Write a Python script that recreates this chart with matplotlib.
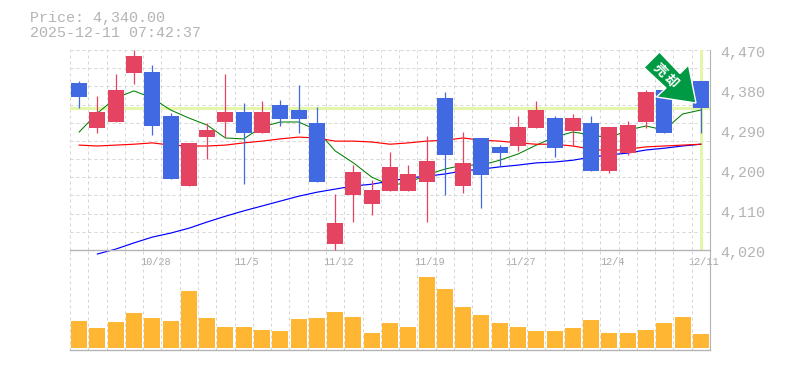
import matplotlib
matplotlib.use("Agg")
import matplotlib.pyplot as plt
from matplotlib.patches import Polygon
import numpy as np

W, H = 785, 370

# price at open / close / high / low for each day
opens = [4396, 4294.5, 4308, 4418, 4420.5, 4321.5, 4164, 4274, 4308, 4330.5, 4283, 4346, 4335, 4306, 4033,
         4144, 4123.5, 4153, 4153, 4173, 4362, 4164, 4272, 4252, 4254, 4294.5, 4317, 4288, 4306, 4198,
         4238, 4308, 4380, 4393.5, 4400]
closes = [4364, 4330.5, 4380, 4456.5, 4299, 4180, 4261, 4290, 4330.5, 4283, 4330.5, 4315, 4315, 4173, 4081,
          4195.5, 4155, 4207, 4191, 4220, 4234, 4216, 4189, 4238, 4297, 4335, 4249.5, 4317, 4198, 4297,
          4301, 4375.5, 4283, 4371, 4340]
highs = [4400, 4366.5, 4416, 4470, 4436, 4328, 4261, 4306, 4416, 4351, 4355, 4357.5, 4391, 4342, 4146,
         4211, 4177.5, 4240.5, 4211, 4276.5, 4375.5, 4285.5, 4272, 4256, 4321.5, 4355, 4321.5, 4326, 4321.5, 4297,
         4310, 4380, 4380, 4402.5, 4400]
lows = [4340, 4283, 4308, 4393.5, 4279, 4180, 4164, 4225, 4274, 4168.5, 4283, 4299, 4283, 4173, 4020,
        4083, 4099, 4153, 4153, 4083, 4144, 4148, 4114.5, 4209, 4243, 4294.5, 4229, 4254, 4198, 4193,
        4234, 4294.5, 4283, 4357.5, 4283]

ma_short = [4285.5, 4328, 4362, 4378, 4362, 4335, 4317, 4301, 4272, 4270, 4297, 4308, 4308, 4290, 4243,
            4216, 4184, 4166, 4171, 4189, 4202, 4211, 4211, 4222, 4236, 4256, 4274, 4285.5, 4279, 4272,
            4290, 4299, 4290, 4326, 4335]
ma_mid = [4256, 4254, 4256, 4258, 4261, 4256, 4254, 4254, 4256, 4261, 4265, 4270, 4274, 4272, 4265,
          4265, 4263, 4258, 4261, 4265, 4267, 4272, 4267, 4265, 4261, 4258, 4258, 4254, 4247, 4243,
          4247, 4252, 4254, 4256, 4258]
ma_long = [4011, 4022, 4036, 4049, 4058, 4069, 4083, 4096, 4108, 4119, 4130, 4141, 4150, 4157,
           4164, 4168, 4175, 4182, 4186, 4191, 4198, 4202, 4207, 4211, 4216, 4218, 4222, 4229, 4234, 4238,
           4245, 4249, 4254, 4258]

volumes = [27, 20, 26, 35, 30, 27, 57, 30, 21, 21, 18, 17, 29, 30, 36, 31, 15, 25,
           21, 71, 59, 41, 33, 25, 21, 17, 17, 20, 28, 15, 15, 18, 25, 31, 14]

price_ticks = [4020, 4110, 4200, 4290, 4380, 4470]
date_pos = [4, 9, 14, 19, 24, 29, 34]
date_labels = ["10/28", "11/5", "11/12", "11/19", "11/27", "12/4", "12/11"]
last_price = 4340

UP = "#e44361"
DOWN = "#4169e1"
GREY = "#b4b4b4"
GRID = "#d6d6d6"
MONO = "Liberation Mono"


def rect(x0, y0, x1, y1):
    return [x0 / W, 1 - y1 / H, (x1 - x0) / W, (y1 - y0) / H]


fig = plt.figure(figsize=(W / 100, H / 100), dpi=100)
ax = fig.add_axes(rect(70, 50, 710, 250))
vol = fig.add_axes(rect(70, 250, 710, 350))

x = np.arange(35) + 0.5
for a in (ax, vol):
    a.set_xlim(0, 35)
    a.set_xticks(np.arange(36))
    a.tick_params(length=0, labelbottom=False, labelleft=False)
    a.grid(True, axis="x", color=GRID, lw=0.72, ls=(0, (3, 3)))
    a.set_axisbelow(True)
    a.patch.set_alpha(0)
    for s in a.spines.values():
        s.set_visible(False)
    a.spines["right"].set_visible(True)
    a.spines["right"].set_color(GREY)
    a.spines["right"].set_linewidth(0.8)
    a.spines["bottom"].set_visible(True)
    a.spines["bottom"].set_color(GREY)
    a.spines["bottom"].set_linewidth(1)

# price panel
ax.set_ylim(4020, 4470)
ax.set_yticks(np.linspace(4020, 4470, 12))
ax.grid(True, axis="y", color=GRID, lw=0.72, ls=(0, (3, 3)))
ax.axhline(last_price, color="#e3f6a9", lw=2.2, zorder=1.5)
ax.axvline(x[-1], color="#e3f6a9", lw=2.2, zorder=1.5)

ax.plot(x, ma_short, color="#008000", lw=0.75, zorder=2)
ax.plot(x, ma_mid, color="#ff0000", lw=0.85, zorder=2.1)
ax.plot(x[1:], ma_long, color="#0000ff", lw=0.85, zorder=2.05, clip_on=False)

colors = [UP if c >= o else DOWN for o, c in zip(opens, closes)]
ax.vlines(x, lows, highs, colors=colors, lw=0.9, zorder=3, clip_on=False)
ax.bar(x, np.abs(np.array(closes) - np.array(opens)), bottom=np.minimum(opens, closes),
       width=0.875, color=colors, zorder=3.1)

for p in price_ticks:
    ax.annotate(f"{p:,}", (1, p), xycoords=("axes fraction", "data"), xytext=(10, -3),
                textcoords="offset pixels", ha="left", va="center",
                family=MONO, fontsize=10.8, color=GREY)
for p, lab in zip(date_pos, date_labels):
    ax.annotate(lab, (x[p], 4020), xycoords="data", xytext=(3, -12),
                textcoords="offset pixels", ha="center", va="center",
                family=MONO, fontsize=7.4, color="#a8a8a8", annotation_clip=False)

# volume panel
vol.set_ylim(-2, 98)
vol.set_yticks([])
vol.bar(x, volumes, width=0.875, color="#ffb733", zorder=3)

fig.text(30 / W, 1 - 18 / H, "Price: 4,340.00", family=MONO, fontsize=10.8, color=GREY, va="center")
fig.text(30 / W, 1 - 33 / H, "2025-12-11 07:42:37", family=MONO, fontsize=10.8, color=GREY, va="center")

# arrow badge, in figure pixels
arrow_px = [(659.5, 52), (644, 67.5), (666, 88), (656.5, 97), (696, 103), (688.5, 65), (680, 73.5)]
arrow_fig = [(px / W, 1 - py / H) for px, py in arrow_px]
fig.add_artist(Polygon(arrow_fig, closed=True, transform=fig.transFigure, facecolor="#009944",
                       edgecolor="white", lw=1, zorder=10))
fig.text(660 / W, 1 - 70 / H, "売", family="Noto Sans CJK JP", fontweight="bold", fontsize=9.5,
         color="white", rotation=-45, ha="center", va="center", zorder=11)
fig.text(671 / W, 1 - 81 / H, "却", family="Noto Sans CJK JP", fontweight="bold", fontsize=9.5,
         color="white", rotation=-45, ha="center", va="center", zorder=11)

fig.savefig("out.png", dpi=100)
